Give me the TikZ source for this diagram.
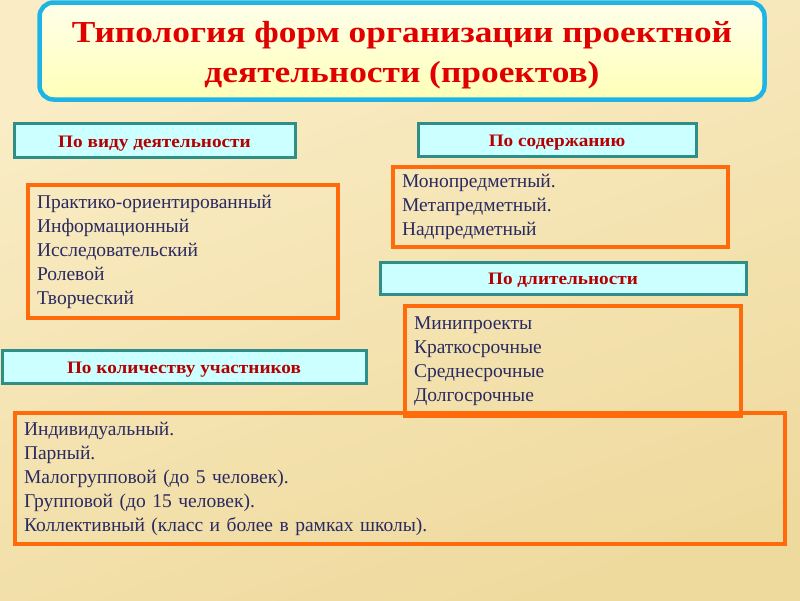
\documentclass[tikz,border=0pt]{standalone}
\usepackage{fontspec}
\setmainfont{Liberation Serif}
\newfontfamily\titlefont[FakeStretch=1.16]{Liberation Serif}
\newfontfamily\headfont[FakeStretch=1.1]{Liberation Serif}
\usepackage{xcolor}
\usepackage{tikz}
\usetikzlibrary{positioning}

\definecolor{bgLight}{HTML}{FAEDC6}
\definecolor{bgDark}{HTML}{EFDA9E}
\definecolor{titleBorder}{HTML}{1FB4E6}
\definecolor{titleRed}{HTML}{E00000}
\definecolor{headRed}{HTML}{B40000}
\definecolor{headFill}{HTML}{CCFFFF}
\definecolor{headBorder}{HTML}{2F8F88}
\definecolor{listOrange}{HTML}{FF6A0A}
\definecolor{listText}{HTML}{2A2A62}

\begin{document}
\begin{tikzpicture}[
    x=1pt, y=-1pt,
    titlebox/.style={rectangle, rounded corners=14pt, draw=titleBorder, line width=4.5pt,
        top color=yellow!8, bottom color=yellow!28},
    titletext/.style={align=center, inner sep=0pt,
        font=\titlefont\fontsize{30.5}{40}\selectfont\bfseries, text=titleRed},
    headbox/.style={rectangle, draw=headBorder, line width=3pt, fill=headFill,
        text height=13pt, text depth=0pt,
        font=\headfont\fontsize{17.5}{22}\selectfont\bfseries, text=headRed},
    listbox/.style={rectangle, draw=listOrange, line width=4pt, align=left,
        inner xsep=9pt, font=\fontsize{19.5}{24}\selectfont, text=listText}
]
    \useasboundingbox (0,0) rectangle (800,600);

    % Background
    \shade[top color=bgLight, bottom color=bgDark, shading angle=20] (0,0) rectangle (800,600);

    % Title
    \node[titlebox, minimum width=725pt, minimum height=97pt] (titleframe) at (402,51) {};
    \node[titletext] (title) at (402,55)
        {Типология форм организации проектной\\деятельности (проектов)};

    % Category headers
    \node[headbox, minimum width=281pt, minimum height=34pt] (kind) at (154.5,140.5) {По виду деятельности};
    \node[headbox, minimum width=278pt, minimum height=33pt] (content) at (557,140) {По содержанию};
    \node[headbox, minimum width=366pt, minimum height=32pt] (duration) at (563,278) {По длительности};
    \node[headbox, minimum width=364pt, minimum height=33pt] (members) at (184,366.5) {По количеству участников};

    % Lists
    \node[listbox, text width=292pt, minimum height=133pt] (kindlist) at (183,251.5)
        {Практико-ориентированный\\Информационный\\Исследовательский\\Ролевой\\Творческий};
    \node[listbox, text width=317pt, minimum height=80pt] (contentlist) at (560.5,207)
        {Монопредметный.\\Метапредметный.\\Надпредметный};
    \node[listbox, text width=318pt, minimum height=110pt] (durationlist) at (573,361)
        {Минипроекты\\Краткосрочные\\Среднесрочные\\Долгосрочные};
    \node[listbox, text width=752pt, minimum height=131pt] (memberslist) at (400,478.5)
        {Индивидуальный.\\Парный.\\Малогрупповой (до 5 человек).\\Групповой (до 15 человек).\\Коллективный (класс и более в рамках школы).};
\end{tikzpicture}
\end{document}
